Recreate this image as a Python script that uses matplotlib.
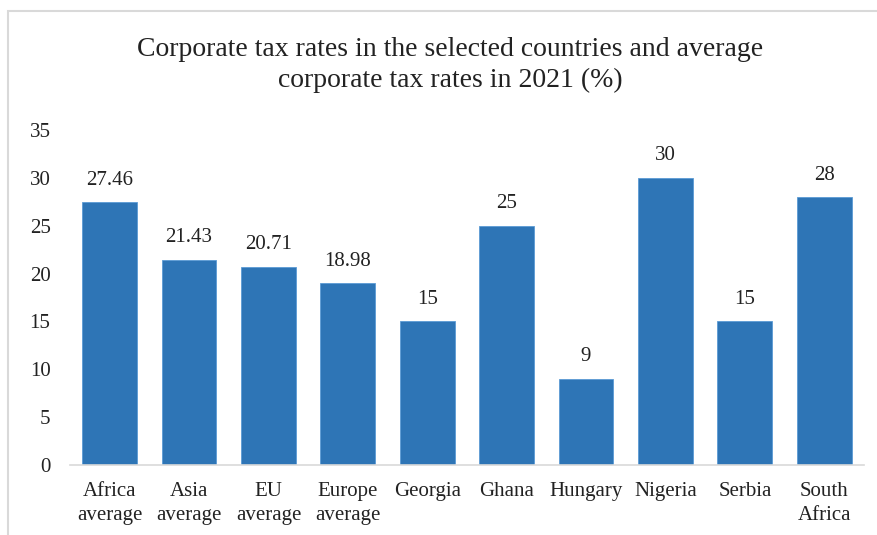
import matplotlib.pyplot as plt
from matplotlib.patches import Rectangle

categories = ["Africa\naverage", "Asia\naverage", "EU\naverage", "Europe\naverage",
              "Georgia", "Ghana", "Hungary", "Nigeria", "Serbia", "South\nAfrica"]
rates = [27.46, 21.43, 20.71, 18.98, 15, 25, 9, 30, 15, 28]
rate_labels = ["27.46", "21.43", "20.71", "18.98", "15", "25", "9", "30", "15", "28"]
yticks = [0, 5, 10, 15, 20, 25, 30, 35]

plt.rcParams['font.family'] = ['Liberation Serif', 'DejaVu Serif']

fig = plt.figure(figsize=(8.78, 5.35), dpi=100)
ax = fig.add_axes([0.0797, 0.1308, 0.9043, 0.6262])

x = range(len(categories))
bars = ax.bar(x, rates, width=0.69, color="#2E75B6", edgecolor="#5B9BD5", linewidth=0.6)

for bar, lab in zip(bars, rate_labels):
    ax.annotate(lab, (bar.get_x() + bar.get_width() / 2, bar.get_height()),
                xytext=(0, 9), textcoords="offset points",
                ha="center", va="bottom", fontsize=15, color="#222222")

ax.set_xlim(-0.5, len(categories) - 0.5)
ax.set_ylim(0, 35)
ax.set_yticks(yticks)
ax.set_xticks(list(x))
ax.set_xticklabels(categories, fontsize=15, color="#222222", linespacing=1.35)
ax.tick_params(axis="y", length=0, pad=14, labelsize=15, labelcolor="#222222")
ax.tick_params(axis="x", length=0, pad=12)

for side in ["top", "right", "left"]:
    ax.spines[side].set_visible(False)
ax.spines["bottom"].set_color("#D9D9D9")
ax.spines["bottom"].set_linewidth(1.2)

fig.text(450 / 878, 1 - 65 / 535,
         "Corporate tax rates in the selected countries and average\ncorporate tax rates in 2021 (%)",
         ha="center", va="center", fontsize=20, color="#222222", linespacing=1.35)

# light frame around the chart area
fig.patches.append(Rectangle((8 / 878, -0.1), 1.2, 1 - 11 / 535 + 0.1,
                             transform=fig.transFigure, fill=False,
                             edgecolor="#D9D9D9", linewidth=1.5))

fig.savefig("out.png", dpi=100)
